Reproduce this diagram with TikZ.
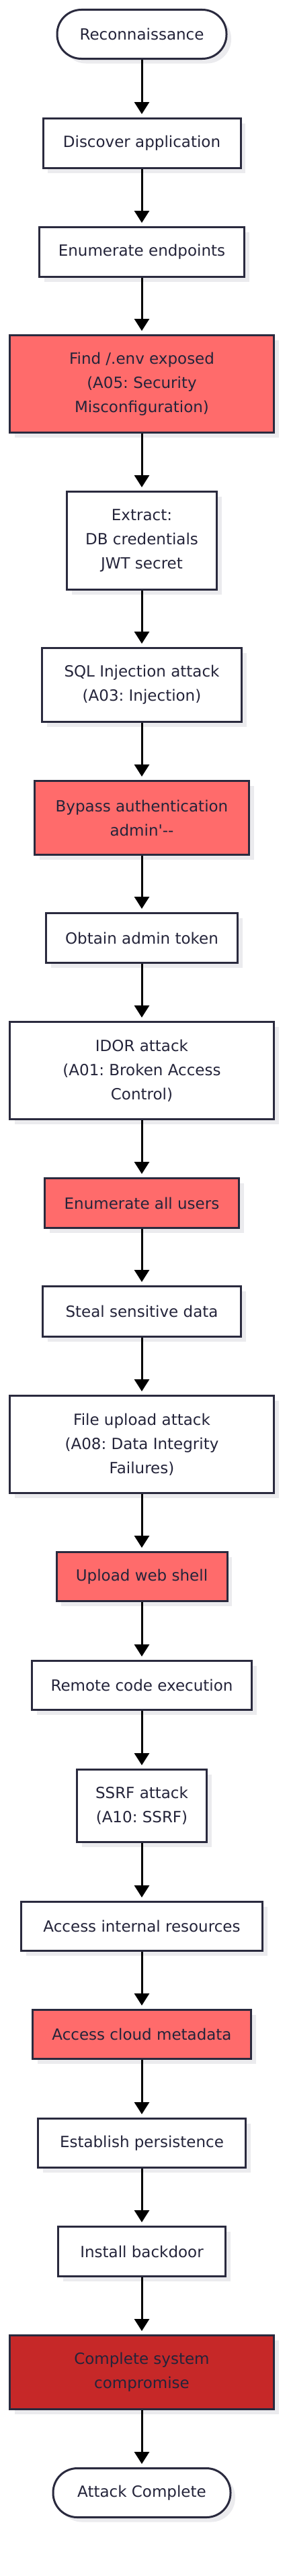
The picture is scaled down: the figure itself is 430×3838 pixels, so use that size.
\documentclass[tikz,border=0pt]{standalone}
\usepackage{fontspec}
\newfontfamily\nodefont{DejaVu Sans}
\usetikzlibrary{arrows.meta,shadows}
\definecolor{bordercol}{HTML}{2A2A3E}
\definecolor{textcol}{HTML}{24243A}
\definecolor{redfill}{HTML}{FF6B6B}
\definecolor{darkred}{HTML}{C62828}
\definecolor{shadowcol}{HTML}{EBEBEE}
\tikzset{
  box/.style={draw=bordercol, line width=3pt, fill=white, rectangle,
    inner sep=0pt, align=center, text=textcol,
    font=\nodefont\fontsize{23}{36}\selectfont\frenchspacing,
    drop shadow={shadow xshift=7pt, shadow yshift=-7pt, fill=shadowcol, opacity=1}},
  hot/.style={box, fill=redfill},
  critical/.style={box, fill=darkred},
  terminal/.style={box, rounded corners=36pt},
  flow/.style={draw=black, line width=3pt, -{Triangle[width=22pt,length=18pt]}, shorten >=5pt}
}
\begin{document}
\begin{tikzpicture}[x=1pt,y=-1pt]
\useasboundingbox[fill=white] (0,0) rectangle (430,3838);
\node[terminal, minimum width=252pt, minimum height=73pt] (n1) at (211,51) {Reconnaissance};
\node[box, minimum width=294pt, minimum height=74pt] (n2) at (211,213.5) {Discover application};
\node[box, minimum width=305pt, minimum height=74pt] (n3) at (211,375.5) {Enumerate endpoints};
\node[hot, minimum width=393pt, minimum height=145pt] (n4) at (211,572) {Find /.env exposed\\(A05: Security\\Misconfiguration)};
\node[box, minimum width=223pt, minimum height=146pt] (n5) at (211,805.5) {Extract:\\DB credentials\\JWT secret};
\node[box, minimum width=297pt, minimum height=110pt] (n6) at (211,1020.5) {SQL Injection attack\\(A03: Injection)};
\node[hot, minimum width=319pt, minimum height=110pt] (n7) at (211,1218.5) {Bypass authentication\\admin\textquotesingle{}-{}-};
\node[box, minimum width=285pt, minimum height=74pt] (n8) at (211,1397.5) {Obtain admin token};
\node[box, minimum width=393pt, minimum height=145pt] (n9) at (211,1595) {IDOR attack\\(A01: Broken Access\\Control)};
\node[hot, minimum width=289pt, minimum height=74pt] (n10) at (211,1792.5) {Enumerate all users};
\node[box, minimum width=295pt, minimum height=75pt] (n11) at (211,1954) {Steal sensitive data};
\node[box, minimum width=393pt, minimum height=145pt] (n12) at (211,2152) {File upload attack\\(A08: Data Integrity\\Failures)};
\node[hot, minimum width=254pt, minimum height=73pt] (n13) at (211,2349) {Upload web shell};
\node[box, minimum width=327pt, minimum height=73pt] (n14) at (211,2511) {Remote code execution};
\node[box, minimum width=193pt, minimum height=108pt] (n15) at (211,2690.5) {SSRF attack\\(A10: SSRF)};
\node[box, minimum width=359pt, minimum height=73pt] (n16) at (211,2870) {Access internal resources};
\node[hot, minimum width=325pt, minimum height=73pt] (n17) at (211,3031) {Access cloud metadata};
\node[box, minimum width=309pt, minimum height=73pt] (n18) at (211,3193) {Establish persistence};
\node[box, minimum width=249pt, minimum height=74pt] (n19) at (211,3354.5) {Install backdoor};
\node[critical, minimum width=393pt, minimum height=110pt] (n20) at (211,3534.5) {Complete system\\compromise};
\node[terminal, minimum width=264pt, minimum height=73pt] (n21) at (211,3714) {Attack Complete};
\foreach \a/\b in {n1/n2,n2/n3,n3/n4,n4/n5,n5/n6,n6/n7,n7/n8,n8/n9,n9/n10,n10/n11,n11/n12,n12/n13,n13/n14,n14/n15,n15/n16,n16/n17,n17/n18,n18/n19,n19/n20,n20/n21}
  \draw[flow] (\a) -- (\b);
\end{tikzpicture}
\end{document}
